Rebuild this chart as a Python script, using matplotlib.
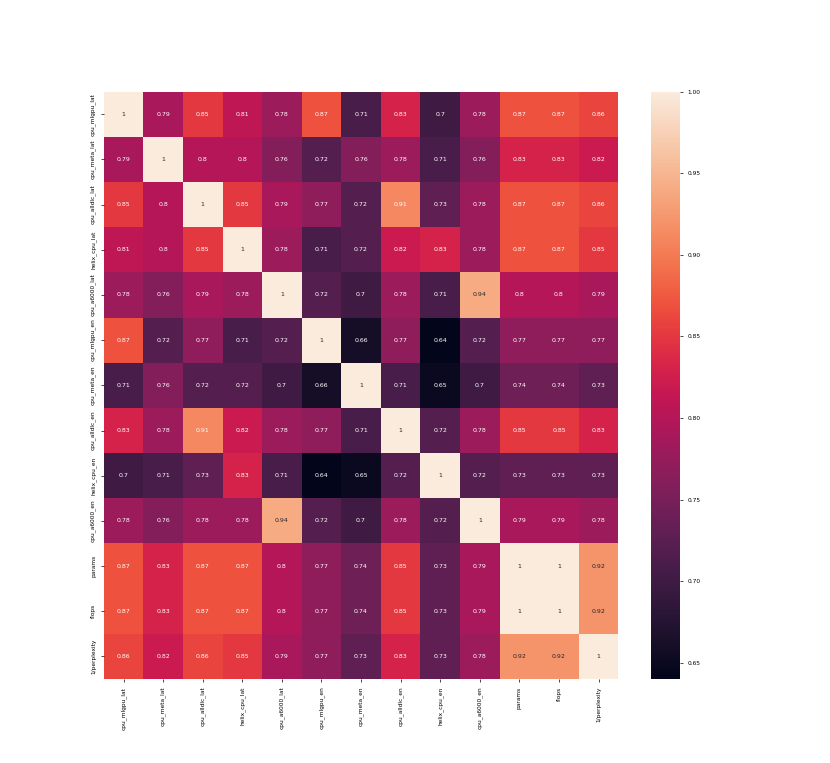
import numpy as np
import matplotlib
matplotlib.use("Agg")
import matplotlib.pyplot as plt
import seaborn as sns

labels = ["cpu_mlgpu_lat", "cpu_meta_lat", "cpu_alldlc_lat", "helix_cpu_lat", "cpu_a6000_lat",
          "cpu_mlgpu_en", "cpu_meta_en", "cpu_alldlc_en", "helix_cpu_en", "cpu_a6000_en",
          "params", "flops", "1/perplexity"]

row_mlgpu_lat = [1, .79, .85, .81, .78, .87, .71, .83, .70, .78, .87, .87, .86]
row_meta_lat = [.79, 1, .80, .80, .76, .72, .76, .78, .71, .76, .83, .83, .82]
row_alldlc_lat = [.85, .80, 1, .85, .79, .77, .72, .91, .73, .78, .87, .87, .86]
row_helix_lat = [.81, .80, .85, 1, .78, .71, .72, .82, .83, .78, .87, .87, .85]
row_a6000_lat = [.78, .76, .79, .78, 1, .72, .70, .78, .71, .94, .80, .80, .79]
row_mlgpu_en = [.87, .72, .77, .71, .72, 1, .66, .77, .64, .72, .77, .77, .77]
row_meta_en = [.71, .76, .72, .72, .70, .66, 1, .71, .65, .70, .74, .74, .73]
row_alldlc_en = [.83, .78, .91, .82, .78, .77, .71, 1, .72, .78, .85, .85, .83]
row_helix_en = [.70, .71, .73, .83, .71, .64, .65, .72, 1, .72, .73, .73, .73]
row_a6000_en = [.78, .76, .78, .78, .94, .72, .70, .78, .72, 1, .79, .79, .78]
row_params = [.87, .83, .87, .87, .80, .77, .74, .85, .73, .79, 1, 1, .92]
row_flops = [.87, .83, .87, .87, .80, .77, .74, .85, .73, .79, 1, 1, .92]
row_ppl = [.86, .82, .86, .85, .79, .77, .73, .83, .73, .78, .92, .92, 1]

corr = np.array([row_mlgpu_lat, row_meta_lat, row_alldlc_lat, row_helix_lat, row_a6000_lat,
                 row_mlgpu_en, row_meta_en, row_alldlc_en, row_helix_en, row_a6000_en,
                 row_params, row_flops, row_ppl])

fig = plt.figure(figsize=(8.3, 7.63), dpi=100)
ax = sns.heatmap(corr, annot=True, xticklabels=labels, yticklabels=labels,
                 annot_kws={"fontsize": 4.5}, vmin=0.64, vmax=1.0)
ax.tick_params(labelsize=4.2, length=2, width=0.5)
plt.setp(ax.get_yticklabels(), rotation=90, va="center")
plt.setp(ax.get_xticklabels(), rotation=90)
cbar = ax.collections[0].colorbar
cbar.ax.tick_params(labelsize=4.2, length=2, width=0.5)
cbar.set_ticks([0.65, 0.70, 0.75, 0.80, 0.85, 0.90, 0.95, 1.00])
plt.savefig("out.png", dpi=100)
